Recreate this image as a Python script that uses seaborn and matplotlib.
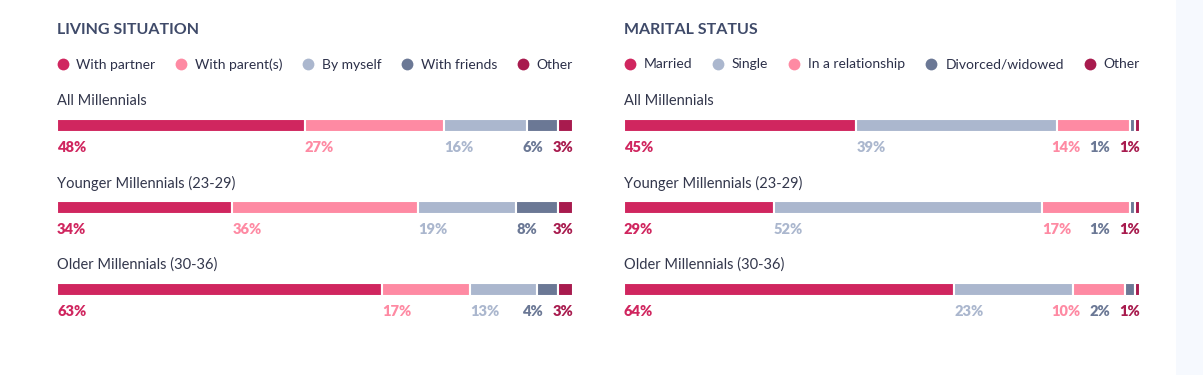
import numpy as np
import pandas as pd
import seaborn as sns
import matplotlib.pyplot as plt
from matplotlib.lines import Line2D
from matplotlib.patches import Rectangle

sns.set_theme(style="white")
plt.rcParams['font.family'] = ['Lato', 'DejaVu Sans']

groups = ["All Millennials", "Younger Millennials (23-29)", "Older Millennials (30-36)"]

living_title = "LIVING SITUATION"
living_cats = ["With partner", "With parent(s)", "By myself", "With friends", "Other"]
living_vals = [
    [48, 34, 63],
    [27, 36, 17],
    [16, 19, 13],
    [6, 8, 4],
    [3, 3, 3],
]

marital_title = "MARITAL STATUS"
marital_cats = ["Married", "Single", "In a relationship", "Divorced/widowed", "Other"]
marital_vals = [
    [45, 29, 64],
    [39, 52, 23],
    [14, 17, 10],
    [1, 1, 2],
    [1, 1, 1],
]

c_main = "#d0265f"
c_pink = "#fe8aa3"
c_grey = "#abb7ce"
c_slate = "#6b7895"
c_dark = "#a81b4e"
living_colors = [c_main, c_pink, c_grey, c_slate, c_dark]
marital_colors = [c_main, c_grey, c_pink, c_slate, c_dark]

W, H = 1203, 375
fig = plt.figure(figsize=(W / 100, H / 100), dpi=100)
fig.patch.set_facecolor("white")
fig.patches.append(Rectangle((1176 / W, 0), 27 / W, 1, transform=fig.transFigure,
                             facecolor="#f6f9fe", edgecolor="none", zorder=0))

ROW = 82.0   # pixel spacing between rows
TOP = 125.5  # pixel centre of first bar


def py(p):
    # pixel from top -> data y
    return (p - TOP) / ROW


def draw_panel(left_px, title, cats, vals, colors):
    ax = fig.add_axes([left_px / W, 0, 516 / W, 1])
    lefts = np.zeros(len(groups))
    for cat, v, col in zip(cats, vals, colors):
        df = pd.DataFrame({"group": groups, "value": v})
        sns.barplot(data=df, x="value", y="group", orient="h", color=col,
                    saturation=1, left=lefts.copy(), width=13 / ROW,
                    edgecolor="white", linewidth=1.5, ax=ax)
        lefts += np.array(v)
    ax.set_xlim(0, 100)
    ax.set_ylim(py(H), py(0))
    ax.axis("off")

    ax.text(0, py(30), title, fontsize=11.5, fontweight="bold", color="#3f4a69",
            va="center", ha="left")

    handles = [Line2D([], [], marker="o", linestyle="none", markersize=8.5,
                      markerfacecolor=c, markeredgecolor="none") for c in colors]
    ax.legend(handles, cats, loc="center left", ncol=len(cats), mode="expand",
              bbox_to_anchor=(0, 1 - 64.5 / H, 1, 0), bbox_transform=ax.transAxes,
              frameon=False, borderaxespad=0, borderpad=0, handlelength=0.8,
              handletextpad=0.6, columnspacing=1.0, fontsize=10,
              labelcolor="#2c3049")

    fig.canvas.draw()
    r = fig.canvas.get_renderer()
    xpx = 100 / 516
    for i, g in enumerate(groups):
        ax.text(0, i + py(101) - py(TOP), g, fontsize=10.5,
                color="#33374c", va="center", ha="left")
        starts = np.cumsum([0] + [v[i] for v in vals])[:-1]
        texts = []
        for k, v in enumerate(vals):
            t = ax.text(starts[k], i + 21.5 / ROW, f"{v[i]}%", fontsize=10.5,
                        fontweight="heavy", color=colors[k], va="center", ha="left")
            texts.append(t)
        # push labels left so they fit and do not overlap
        limit = 100.0
        for k in range(len(texts) - 1, -1, -1):
            w = texts[k].get_window_extent(r).width * xpx
            x = min(starts[k], limit - w)
            texts[k].set_x(x)
            limit = x - 9 * xpx
    return ax


draw_panel(57, living_title, living_cats, living_vals, living_colors)
draw_panel(624, marital_title, marital_cats, marital_vals, marital_colors)

plt.savefig("out.png", dpi=100)
